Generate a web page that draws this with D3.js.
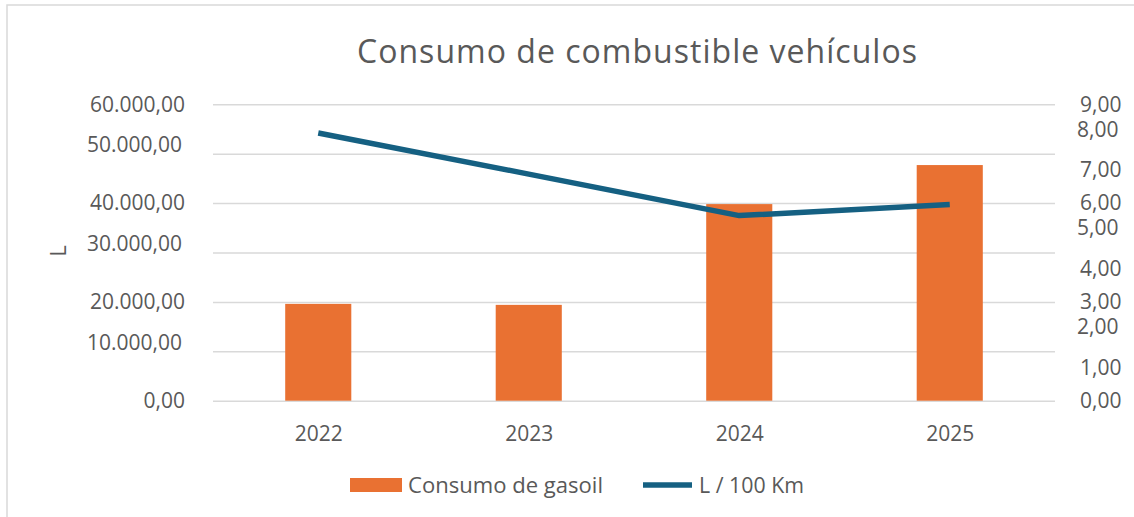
<!DOCTYPE html>
<html>
<head>
<meta charset="utf-8">
<script src="https://cdn.jsdelivr.net/npm/d3@7"></script>
<style>
  html, body { margin: 0; padding: 0; background: #fff; }
  svg { display: block; }
</style>
</head>
<body>
<svg id="chart" width="1134" height="517"></svg>
<script>
// ---- data ----
const years = ["2022", "2023", "2024", "2025"];
const gasoil = [19600, 19400, 39800, 47700];      // Consumo de gasoil (L)
const l100km = [8.13, 6.88, 5.62, 5.96];          // L / 100 Km
const leftTicks = [0, 10000, 20000, 30000, 40000, 50000, 60000];
const rightTicks = [0, 1, 2, 3, 4, 5, 6, 7, 8, 9];
const leftRaised = [50000, 30000, 10000];          // labels drawn slightly raised in the original
const rightRaised = [8, 5, 2];
const title = "Consumo de combustible vehículos";
const seriesNames = ["Consumo de gasoil", "L / 100 Km"];
const yAxisTitle = "L";

// ---- styles ----
const ORANGE = "#E97132", BLUE = "#156082", GRID = "#d9d9d9", TXT = "#595959";
const axisFont = "'Open Sans', 'DejaVu Sans', sans-serif";

const locale = d3.formatLocale({ decimal: ",", thousands: ".", grouping: [3], currency: ["", "€"] });
const fmt = locale.format(",.2f");

const svg = d3.select("#chart");
const plot = { left: 213, right: 1055, top: 104.3, bottom: 400.7 };

// frame
svg.append("rect").attr("x", 7).attr("y", 5).attr("width", 1140).attr("height", 520)
  .attr("fill", "#fff").attr("stroke", GRID).attr("stroke-width", 1.5);

const x = d3.scaleBand().domain(years).range([plot.left, plot.right])
  .paddingInner(0.686).paddingOuter(0.343);
const xc = d3.scalePoint().domain(years).range([plot.left, plot.right]).padding(0.5);
const yL = d3.scaleLinear().domain([0, 60000]).range([plot.bottom, plot.top]);
const yR = d3.scaleLinear().domain([0, 9]).range([plot.bottom, plot.top]);

// gridlines
const grid = d3.axisLeft(yL).tickValues(leftTicks).tickSize(-(plot.right - plot.left)).tickFormat("");
svg.append("g").attr("transform", `translate(${plot.left},0)`).call(grid)
  .call(g => g.select(".domain").remove())
  .call(g => g.selectAll("line").attr("stroke", GRID).attr("stroke-width", 1.5));

// left axis labels
const lAxis = d3.axisLeft(yL).tickValues(leftTicks).tickFormat(fmt).tickSize(0).tickPadding(0);
svg.append("g").attr("transform", `translate(185,0)`).call(lAxis)
  .call(g => g.select(".domain").remove())
  .call(g => g.selectAll("text")
    .attr("font-family", axisFont).attr("font-size", 21).attr("fill", TXT)
    .attr("dx", d => leftRaised.includes(d) ? -3 : 0)
    .attr("dy", d => leftRaised.includes(d) ? "-0.05em" : "0.32em")
    .attr("transform", d => leftRaised.includes(d) ? "translate(0,-1)" : null));

// right axis labels
const rAxis = d3.axisRight(yR).tickValues(rightTicks).tickFormat(fmt).tickSize(0).tickPadding(0);
svg.append("g").attr("transform", `translate(1080,0)`).call(rAxis)
  .call(g => g.select(".domain").remove())
  .call(g => g.selectAll("text")
    .attr("font-family", axisFont).attr("font-size", 21).attr("fill", TXT)
    .attr("dx", d => rightRaised.includes(d) ? -3 : 0)
    .attr("dy", d => rightRaised.includes(d) ? "-0.05em" : "0.32em"));

// x axis labels
const xAxis = d3.axisBottom(xc).tickSize(0).tickPadding(0);
svg.append("g").attr("transform", `translate(0,${plot.bottom})`).call(xAxis)
  .call(g => g.select(".domain").remove())
  .call(g => g.selectAll("text")
    .attr("font-family", axisFont).attr("font-size", 21).attr("fill", TXT)
    .attr("dy", 0).attr("y", 40));

// bars
svg.append("g").selectAll("rect").data(years).join("rect")
  .attr("x", d => x(d)).attr("width", x.bandwidth())
  .attr("y", (d, i) => yL(gasoil[i]))
  .attr("height", (d, i) => yL(0) - yL(gasoil[i]))
  .attr("fill", ORANGE);

// line
const line = d3.line().x((d, i) => xc(years[i])).y(d => yR(d));
svg.append("path").datum(l100km).attr("d", line)
  .attr("fill", "none").attr("stroke", BLUE).attr("stroke-width", 5.5)
  .attr("stroke-linejoin", "round");

// title
svg.append("text").attr("x", 637).attr("y", 63).attr("text-anchor", "middle")
  .attr("font-family", axisFont).attr("font-size", 32).attr("fill", TXT)
  .attr("textLength", 560).attr("lengthAdjust", "spacing")
  .text(title);

// y axis title
svg.append("text").attr("transform", "translate(66,251) rotate(-90)")
  .attr("text-anchor", "middle").attr("font-family", axisFont).attr("font-size", 22)
  .attr("fill", TXT).text(yAxisTitle);

// legend
const lg = svg.append("g");
lg.append("rect").attr("x", 350).attr("y", 478).attr("width", 52).attr("height", 14).attr("fill", ORANGE);
lg.append("text").attr("x", 408).attr("y", 493).attr("font-family", axisFont).attr("font-size", 21)
  .attr("fill", TXT).attr("textLength", 195).attr("lengthAdjust", "spacingAndGlyphs").text(seriesNames[0]);
lg.append("line").attr("x1", 643).attr("x2", 692).attr("y1", 485).attr("y2", 485)
  .attr("stroke", BLUE).attr("stroke-width", 5.5);
lg.append("text").attr("x", 699).attr("y", 493).attr("font-family", axisFont).attr("font-size", 21)
  .attr("fill", TXT).attr("textLength", 105).attr("lengthAdjust", "spacingAndGlyphs").text(seriesNames[1]);
</script>
</body>
</html>
